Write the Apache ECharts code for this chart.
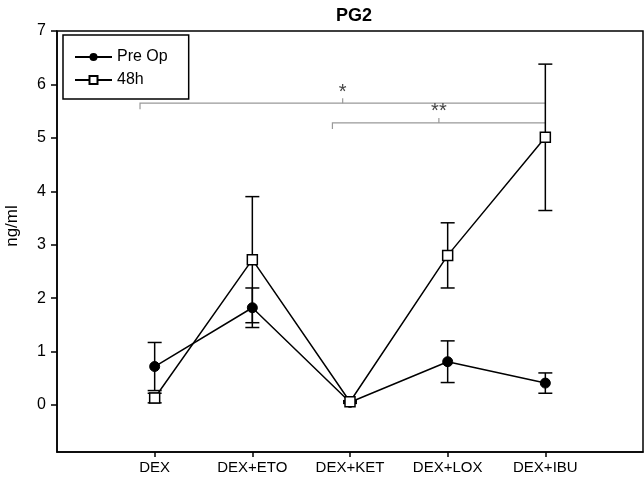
<!DOCTYPE html>
<html>
<head>
<meta charset="utf-8">
<script src="https://cdn.jsdelivr.net/npm/echarts@6/dist/echarts.min.js"></script>
<style>
  html, body { margin: 0; padding: 0; background: #fff; }
  #main { width: 644px; height: 483px; }
</style>
</head>
<body>
<div id="main"></div>
<script>
var categories = ['DEX', 'DEX+ETO', 'DEX+KET', 'DEX+LOX', 'DEX+IBU'];
var preOp = [0.72, 1.82, 0.05, 0.81, 0.41];
var preOpErr = [0.45, 0.37, 0.02, 0.39, 0.19];
var h48 = [0.13, 2.72, 0.06, 2.80, 5.01];
var h48Err = [0.09, 1.18, 0.02, 0.61, 1.37];
var yTicks = [0, 1, 2, 3, 4, 5, 6, 7];

// significance brackets (x in category positions, 1 = DEX)
var bracketStart = [0.85, 2.82];
var bracketEnd = [5, 5];
var bracketY = [5.65, 5.28];
var bracketLabel = ['*', '**'];

var FONT = '"Liberation Sans", Arial, sans-serif';
var myChart = echarts.init(document.getElementById('main'));

function pts(vals) {
  return vals.map(function (v, i) { return [i + 1, v]; });
}
function errData(vals, errs) {
  return vals.map(function (v, i) { return [i + 1, v - errs[i], v + errs[i]]; });
}
function errRender(params, api) {
  var lo = api.coord([api.value(0), api.value(1)]);
  var hi = api.coord([api.value(0), api.value(2)]);
  var w = 7;
  var st = { stroke: '#000', lineWidth: 1.5 };
  return {
    type: 'group',
    children: [
      { type: 'line', shape: { x1: lo[0], y1: lo[1], x2: hi[0], y2: hi[1] }, style: st },
      { type: 'line', shape: { x1: lo[0] - w, y1: lo[1], x2: lo[0] + w, y2: lo[1] }, style: st },
      { type: 'line', shape: { x1: hi[0] - w, y1: hi[1], x2: hi[0] + w, y2: hi[1] }, style: st }
    ]
  };
}

var bracketData = bracketStart.map(function (s, i) {
  return [s, bracketEnd[i], bracketY[i], i];
});

myChart.setOption({
  animation: false,
  title: {
    text: 'PG2',
    left: 349,
    top: 2,
    textAlign: 'center',
    textStyle: { fontFamily: FONT, fontSize: 18, fontWeight: 'bold', color: '#000' }
  },
  legend: {
    data: ['Pre Op', '48h'],
    orient: 'vertical',
    left: 63,
    top: 35,
    borderColor: '#000',
    borderWidth: 1.5,
    padding: [14, 21, 11, 11],
    itemWidth: 37,
    itemHeight: 10,
    itemGap: 7,
    textStyle: { fontFamily: FONT, fontSize: 16, color: '#000' }
  },
  grid: {
    left: 57,
    right: 1,
    top: 31,
    bottom: 31,
    show: true,
    borderColor: '#000',
    borderWidth: 1.5,
    backgroundColor: '#fff'
  },
  xAxis: {
    type: 'value',
    min: 0,
    max: 6,
    axisLine: { onZero: false, lineStyle: { color: '#000', width: 1.5 } },
    axisTick: { customValues: [1, 2, 3, 4, 5], length: 5, lineStyle: { color: '#000', width: 1.5 } },
    axisLabel: {
      customValues: [1, 2, 3, 4, 5],
      margin: 8,
      color: '#000',
      fontFamily: FONT,
      fontSize: 15,
      formatter: function (v) { return categories[v - 1] || ''; }
    },
    splitLine: { show: false }
  },
  yAxis: {
    type: 'value',
    min: -0.88,
    max: 7,
    axisLine: { lineStyle: { color: '#000', width: 1.5 } },
    axisTick: { customValues: yTicks, length: 6, lineStyle: { color: '#000', width: 1.5 } },
    axisLabel: {
      customValues: yTicks,
      margin: 11,
      color: '#000',
      fontFamily: FONT,
      fontSize: 16
    },
    splitLine: { show: false }
  },
  graphic: [{
    type: 'text',
    x: 12,
    y: 226,
    rotation: Math.PI / 2,
    style: {
      text: 'ng/ml',
      fontFamily: FONT,
      fontSize: 17,
      fill: '#000',
      align: 'center',
      verticalAlign: 'middle'
    }
  }],
  series: [
    {
      name: 'brackets',
      type: 'custom',
      silent: true,
      data: bracketData,
      renderItem: function (params, api) {
        var a = api.coord([api.value(0), api.value(2)]);
        var b = api.coord([api.value(1), api.value(2)]);
        var mx = (a[0] + b[0]) / 2;
        var st = { stroke: '#999', lineWidth: 1.2, fill: null };
        return {
          type: 'group',
          children: [
            { type: 'polyline', shape: { points: [[a[0], a[1] + 6], [a[0], a[1]], [b[0], b[1]]] }, style: st },
            { type: 'line', shape: { x1: mx, y1: a[1], x2: mx, y2: a[1] - 5 }, style: st },
            {
              type: 'text',
              x: mx,
              y: a[1] - 11,
              style: {
                text: bracketLabel[api.value(3)],
                fontFamily: FONT,
                fontSize: 20,
                fill: '#444',
                align: 'center',
                verticalAlign: 'middle'
              }
            }
          ]
        };
      }
    },
    {
      name: 'preErr',
      type: 'custom',
      data: errData(preOp, preOpErr),
      renderItem: errRender,
      z: 3
    },
    {
      name: 'h48Err',
      type: 'custom',
      data: errData(h48, h48Err),
      renderItem: errRender,
      z: 3
    },
    {
      name: 'Pre Op',
      type: 'line',
      data: pts(preOp),
      symbol: 'circle',
      symbolSize: 10,
      lineStyle: { color: '#000', width: 1.5 },
      itemStyle: { color: '#000', borderColor: '#000' },
      z: 4
    },
    {
      name: '48h',
      type: 'line',
      data: pts(h48),
      symbol: 'rect',
      symbolSize: 10,
      lineStyle: { color: '#000', width: 1.5 },
      itemStyle: { color: '#fff', borderColor: '#000', borderWidth: 1.5 },
      z: 5
    }
  ]
});
</script>
</body>
</html>
